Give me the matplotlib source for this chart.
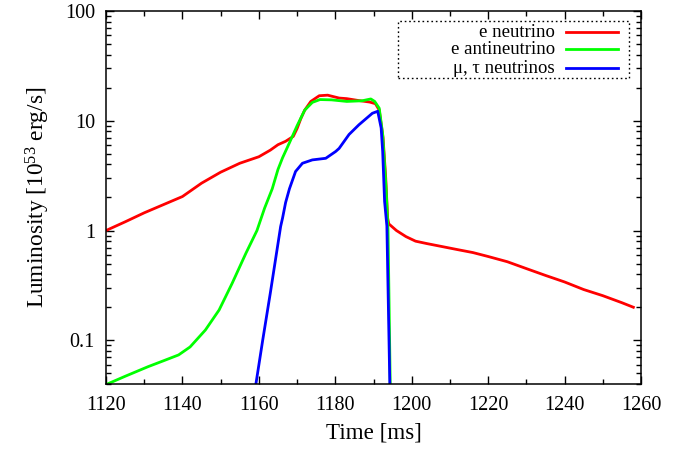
import matplotlib
matplotlib.use("Agg")
import matplotlib.pyplot as plt
from matplotlib.patches import Rectangle
from matplotlib.ticker import MultipleLocator, LogLocator, FixedLocator, FuncFormatter, NullFormatter

plt.rcParams["font.family"] = ["Liberation Serif", "DejaVu Serif"]
plt.rcParams["mathtext.default"] = "regular"

# luminosity curves [1e53 erg/s] vs time [ms]
t_nue = [1120, 1125, 1130, 1135, 1140, 1145, 1150, 1155, 1160, 1163, 1165, 1167,
         1169, 1170, 1171, 1172, 1173.6, 1175.8, 1178, 1181, 1183, 1186, 1189,
         1190.5, 1191.5, 1192.5, 1193.2, 1193.7, 1194, 1196, 1198.5, 1201, 1204,
         1207, 1212, 1216, 1220, 1225, 1230, 1235, 1240, 1245, 1250, 1255, 1258]
L_nue = [1.0, 1.2, 1.45, 1.72, 2.04, 2.7, 3.4, 4.1, 4.7, 5.4, 6.05, 6.5,
         7.2, 8.5, 10.5, 12.5, 15.0, 16.9, 17.1, 16.1, 15.9, 15.3, 14.8,
         14.3, 12.5, 7.0, 3.0, 1.3, 1.15, 1.0, 0.88, 0.8, 0.76,
         0.725, 0.67, 0.63, 0.58, 0.52, 0.45, 0.39, 0.34, 0.29, 0.255, 0.22, 0.2]

t_anue = [1120, 1125, 1131, 1135, 1139, 1142, 1146, 1149.6, 1153, 1156.6, 1159.5,
          1161.5, 1163.5, 1165, 1166.2, 1168, 1170, 1172, 1174, 1176, 1179, 1183,
          1187, 1189.3, 1190.3, 1191.5, 1192.4, 1193.3, 1193.8, 1194.4]
L_anue = [0.0395, 0.047, 0.0575, 0.065, 0.0736, 0.087, 0.124, 0.189, 0.33, 0.62, 1.0,
          1.6, 2.4, 3.6, 4.6, 6.3, 9.0, 12.5, 14.7, 15.6, 15.5, 15.0,
          15.2, 15.8, 15.0, 13.0, 7.5, 2.4, 1.0, 0.035]

t_numu = [1159.2, 1161, 1163, 1165.7, 1166.2, 1167, 1168, 1169.6, 1171.4, 1174,
          1177.5, 1180.1, 1181, 1183.6, 1186.2, 1189.7, 1191.1, 1192, 1192.4,
          1192.9, 1193.5, 1194.3]
L_numu = [0.0395, 0.1, 0.27, 1.09, 1.3, 1.8, 2.4, 3.45, 4.1, 4.4,
          4.55, 5.25, 5.6, 7.5, 9.2, 11.7, 12.2, 8.6, 5.25,
          1.84, 1.1, 0.035]

labels = ["e neutrino", "e antineutrino", "\u03bc, \u03c4 neutrinos"]
colors = ["#ff0000", "#00ff00", "#0000ff"]

fig = plt.figure(figsize=(6.92, 4.5), dpi=100)
ax = fig.add_axes([0.1532, 0.1467, 0.7731, 0.8289])

for t, L, lab, c in zip([t_nue, t_anue, t_numu], [L_nue, L_anue, L_numu], labels, colors):
    ax.plot(t, L, color=c, lw=2.0, label=lab)

ax.set_yscale("log")
ax.set_xlim(1120, 1260)
ax.set_ylim(0.04, 100)

ax.xaxis.set_major_locator(MultipleLocator(20))
ax.xaxis.set_minor_locator(MultipleLocator(10))
ax.yaxis.set_major_locator(FixedLocator([0.1, 1, 10, 100]))
ax.yaxis.set_minor_locator(LogLocator(base=10, subs=range(2, 10)))
ax.yaxis.set_major_formatter(FuncFormatter(lambda v, p: "%g" % v))
ax.yaxis.set_minor_formatter(NullFormatter())

ax.tick_params(which="both", direction="in", top=True, right=True, width=1.0,
               labelsize=14.5)
ax.tick_params(which="major", length=6)
ax.tick_params(which="minor", length=3.5)
ax.tick_params(axis="x", pad=9)
ax.tick_params(axis="y", pad=8)
for s in ax.spines.values():
    s.set_linewidth(1.1)

ax.set_xlabel("Time [ms]", fontsize=16.6, labelpad=5)
ax.set_ylabel("Luminosity [10$^{53}$ erg/s]", fontsize=16.8, labelpad=9)

# gnuplot-style key: right-aligned labels, line sample to the right, dotted box
key_y = [0.9311, 0.8847, 0.8346]   # label baselines (axes fraction)
line_dy = 0.0134                   # sample sits a little above the baseline
for y, lab, c in zip(key_y, labels, colors):
    ax.text(0.8393, y, lab, transform=ax.transAxes, ha="right", va="baseline",
            fontsize=13.5, zorder=6)
    ax.plot([0.8600, 0.9563], [y + line_dy] * 2, transform=ax.transAxes,
            color=c, lw=2.0, zorder=6)
ax.add_patch(Rectangle((0.5458, 0.8212), 0.9776 - 0.5458, 0.9732 - 0.8212,
                       transform=ax.transAxes, fill=False, edgecolor="black",
                       linestyle=(0, (1.2, 2.0)), linewidth=1.0, zorder=5))

fig.savefig("out.png", dpi=100, facecolor="white")
